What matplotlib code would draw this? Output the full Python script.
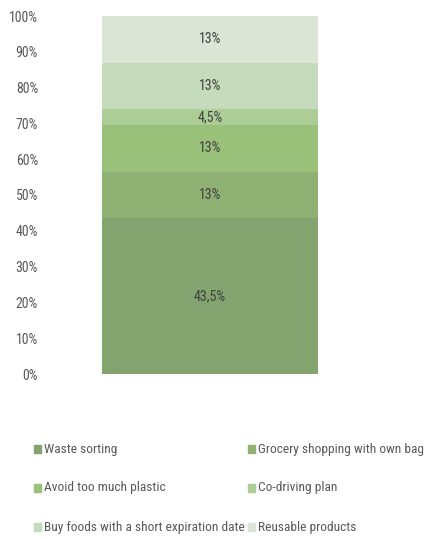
import matplotlib
matplotlib.use("Agg")
import matplotlib.pyplot as plt
from matplotlib.patches import Rectangle
from matplotlib import font_manager

# narrow face to get the tall, squeezed lettering
names = {f.name for f in font_manager.fontManager.ttflist}
family = next((n for n in ["Roboto Condensed", "Carlito", "Liberation Sans Narrow"] if n in names),
              "DejaVu Sans")
plt.rcParams["font.family"] = [family, "DejaVu Sans"]

categories = ["Waste sorting", "Grocery shopping with own bag", "Avoid too much plastic",
              "Co-driving plan", "Buy foods with a short expiration date", "Reusable products"]
shares = [43.5, 13, 13, 4.5, 13, 13]
share_labels = ["43,5%", "13%", "13%", "4,5%", "13%", "13%"]
colors = ["#84a46f", "#8fb274", "#99c17a", "#adcd97", "#c6dbbb", "#dae5d5"]
yticks = list(range(0, 101, 10))

W, H = 425, 539
fig = plt.figure(figsize=(W / 100, H / 100), dpi=100)
ax = fig.add_axes([102 / W, (H - 374) / H, 216 / W, 358 / H])

bottom = 0
for val, lab, col in zip(shares, share_labels, colors):
    ax.bar(0, val, bottom=bottom, width=1, color=col, edgecolor="none")
    ax.text(0, bottom + val / 2, lab, ha="center", va="center", fontsize=10, color="#404040")
    bottom += val

ax.set_xlim(-0.5, 0.5)
ax.set_ylim(0, 100)
ax.set_yticks(yticks)
ax.set_yticklabels([f"{t}%" for t in yticks], fontsize=10, color="#595959")
ax.tick_params(axis="y", length=0, pad=46)
ax.set_xticks([])
for s in ax.spines.values():
    s.set_visible(False)

# legend laid out in two columns under the bar
cols_x = [34, 248]
rows_y = [449, 488, 527]
for i, (name, col) in enumerate(zip(categories, colors)):
    x = cols_x[i % 2]
    y = rows_y[i // 2]
    fig.patches.append(Rectangle((x / W, (H - y - 4) / H), 7 / W, 8 / H,
                                 transform=fig.transFigure, color=col))
    fig.text((x + 10) / W, (H - y) / H, name, ha="left", va="center",
             fontsize=9.6, color="#595959")

fig.savefig("out.png", dpi=100)
